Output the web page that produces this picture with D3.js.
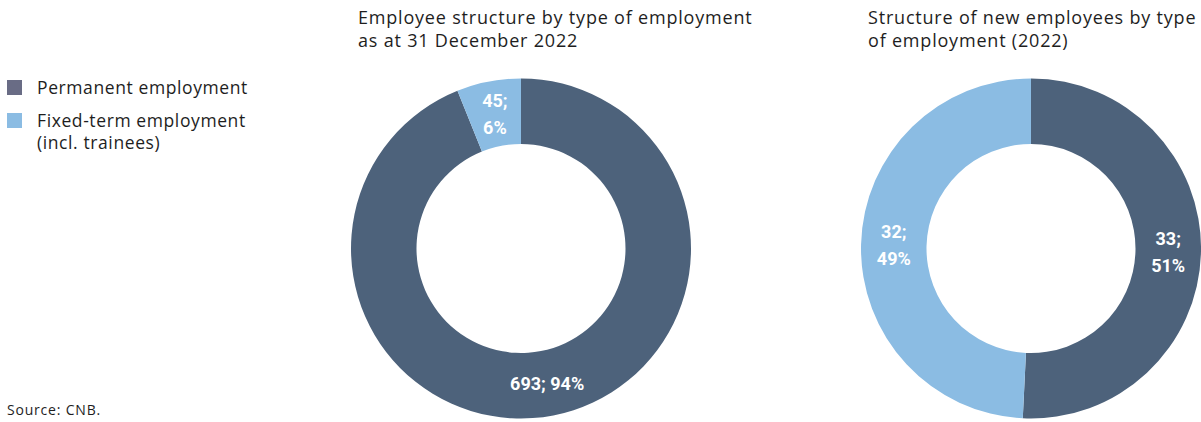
<!DOCTYPE html>
<html lang="en">
<head>
    <meta charset="UTF-8">
    <title>Employee structure by type of employment</title>
    <script src="https://d3js.org/d3.v7.min.js"></script>
    <style>
        body { margin: 0; background: #fff; }
        svg text { font-family: "Open Sans", "Noto Sans", sans-serif; fill: #1e1e1e; }
        .title { font-size: 18px; letter-spacing: 0.8px; }
        .legend text { font-size: 17.5px; letter-spacing: 0.6px; }
        .source { font-size: 14px; letter-spacing: 0.8px; }
        .slice-label { font-family: Roboto, sans-serif !important; font-weight: bold; font-size: 18px; fill: #fff !important; text-anchor: middle; }
    </style>
</head>
<body>
    <svg id="chart" width="1201" height="422"></svg>

    <script>
        // categories & colours
        const categories = ["Permanent employment", "Fixed-term employment (incl. trainees)"];
        const legendLines = [["Permanent employment"], ["Fixed-term employment", "(incl. trainees)"]];
        const sliceColors = ["#4d627b", "#8bbce3"];
        const legendColors = ["#696c85", "#8bbce3"];

        // values
        const totalCounts = [693, 45];
        const totalShares = [94, 6];
        const newCounts = [33, 32];
        const newShares = [51, 49];

        const titles = [
            ["Employee structure by type of employment", "as at 31 December 2022"],
            ["Structure of new employees by type", "of employment (2022)"]
        ];

        const svg = d3.select("#chart");

        // legend
        const legend = svg.append("g").attr("class", "legend");
        const legendY = [80, 113];
        legendLines.forEach((lines, i) => {
            legend.append("rect")
                .attr("x", 7).attr("y", legendY[i])
                .attr("width", 15).attr("height", 15)
                .attr("fill", legendColors[i]);
            lines.forEach((t, j) => {
                legend.append("text")
                    .attr("x", 37)
                    .attr("y", legendY[i] + 14 + j * 22)
                    .text(t);
            });
        });

        svg.append("text")
            .attr("class", "source")
            .attr("x", 7).attr("y", 415)
            .text("Source: CNB.");

        const pie = d3.pie().sort(null).value(d => d.count);
        const outerR = 170, innerR = 104.5;
        const arc = d3.arc().innerRadius(innerR).outerRadius(outerR);

        function drawDonut(cx, cy, counts, shares, title, titleX, splitLabels) {
            const data = counts.map((c, i) => ({ count: c, share: shares[i], idx: i }));
            const g = svg.append("g").attr("transform", `translate(${cx},${cy})`);

            g.selectAll("path")
                .data(pie(data))
                .enter().append("path")
                .attr("d", arc)
                .attr("fill", d => sliceColors[d.data.idx]);

            // labels at arc centroids
            pie(data).forEach(d => {
                const [x, y] = arc.centroid(d);
                const lines = splitLabels[d.data.idx]
                    ? [`${d.data.count};`, `${d.data.share}%`]
                    : [`${d.data.count}; ${d.data.share}%`];
                const t = g.append("text")
                    .attr("class", "slice-label")
                    .attr("x", x)
                    .attr("y", y - (lines.length - 1) * 13.5);
                lines.forEach((l, k) => {
                    t.append("tspan")
                        .attr("x", x)
                        .attr("dy", k === 0 ? "0.35em" : 27)
                        .text(l);
                });
            });

            title.forEach((t, j) => {
                svg.append("text")
                    .attr("class", "title")
                    .attr("x", titleX)
                    .attr("y", 24 + j * 23)
                    .text(t);
            });
        }

        drawDonut(521, 248.5, totalCounts, totalShares, titles[0], 358, [false, true]);
        drawDonut(1031, 248.5, newCounts, newShares, titles[1], 868, [true, true]);
    </script>
</body>
</html>
